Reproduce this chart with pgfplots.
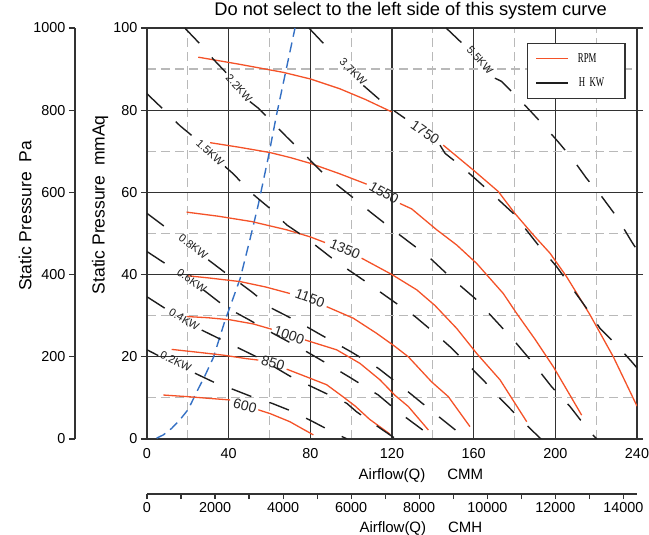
\documentclass[border=0pt]{standalone}
\usepackage{pgfplots}
\pgfplotsset{compat=1.18}
\usepackage{fontspec}
\setmainfont{Liberation Sans}
\newfontfamily\legfont{Liberation Serif}[FakeStretch=0.65]
\definecolor{rpm}{RGB}{244,82,40}
\definecolor{sys}{RGB}{52,112,196}
\definecolor{kw}{RGB}{30,30,30}
\definecolor{gridmaj}{RGB}{50,50,50}
\definecolor{gridmin}{RGB}{185,185,185}
\newcommand\tkf{\fontsize{14.4bp}{17bp}\selectfont}
\newcommand\lbf{\fontsize{15bp}{18bp}\selectfont}
\newcommand\ylf{\fontsize{17.5bp}{20bp}\selectfont}
\newcommand\ttf{\fontsize{18.3bp}{21bp}\selectfont}
\newcommand\kwf{\fontsize{11bp}{13bp}\selectfont}
\newcommand\rpf{\fontsize{14bp}{16bp}\selectfont}
\newcommand\legf{\legfont\fontsize{13.5bp}{15bp}\selectfont}
\pgfplotsset{
  rpmline/.style={rpm, line width=1.3bp, forget plot},
  kwline/.style={kw, line width=1.4bp, dash pattern=on 21bp off 19bp, forget plot},
}
\begin{document}
\begin{tikzpicture}
\begin{axis}[
  scale only axis, width=490bp, height=411bp,
  at={(0,0)}, anchor=south west,
  xmin=0, xmax=240, ymin=0, ymax=100,
  xtick={0,40,...,240}, ytick={0,20,...,100},
  yticklabels={0\hspace{6bp},20,40,60,80,100},
  minor x tick num=1, minor y tick num=1,
  grid=both,
  major grid style={gridmaj, line width=1.3bp},
  minor grid style={gridmin, line width=1.2bp, dash pattern=on 9bp off 5bp},
  axis line style={gridmaj, line width=1.5bp},
  tick align=outside, major tick length=6bp, minor tick length=0pt,
  tick style={gridmaj, line width=1.2bp},
  xtick style={/pgfplots/major tick length=0pt},
  /pgf/number format/assume math mode=true,
  xticklabel style={font=\tkf},
  yticklabel style={font=\tkf},
  title={Do not select to the left side of this system curve},
  title style={font=\ttf, at={(axis description cs:0.538,1)}, anchor=base, yshift=6.3bp},
  xlabel={Airflow(Q)\hspace{22bp}CMM},
  xlabel style={font=\lbf, at={(axis description cs:0.559,0)}, anchor=center, yshift=-37bp},
  ylabel={Static Pressure\ \ mmAq},
  ylabel style={font=\ylf, at={(axis description cs:-0.0959,0.570)}, anchor=center},
  legend style={at={(axis description cs:0.7755,0.9635)}, anchor=north west,
    draw=gridmaj, line width=1.3bp, fill=white, font=\legf,
    inner xsep=8bp, inner ysep=8bp, row sep=10bp, cells={anchor=west}},
  legend image code/.code={\draw[#1] (0bp,0bp) -- (32bp,0bp);},
]
\addlegendimage{draw=rpm, line width=1.3bp}\addlegendentry{\makebox[44bp][l]{\hspace{7bp}RPM}}
\addlegendimage{draw=kw, line width=1.3bp}\addlegendentry{\makebox[44bp][l]{\hspace{8bp}H\ \ KW}}

% ---- system curve
\addplot[sys, line width=1.4bp, dash pattern=on 10bp off 6bp, forget plot] coordinates {
(4.7,0.2)(8,1)(12.1,2.6)(16,4.6)(20.2,7.2)(25.1,12.2)(28,15)(32.5,19.8)(38,28.5)(42,34)(45.6,39)(50.4,48.5)(54.5,57)(59.4,68.5)(63.5,79)(68,89.5)(72.5,100)};

% ---- RPM curves
\addplot[rpmline] coordinates {(25.1,92.9)(45,91.2)(66.8,89.2)(80,87.6)(94.5,85.2)(107,82.6)(119.8,79.6)};
\addplot[rpmline] coordinates {(145.1,71.5)(159.9,65.4)(172.1,60.2)(180,55)(189.5,49.5)(197.4,45.2)(205.5,39.5)(217,30.2)(228.4,20.0)(240,8.0)};
\addplot[rpmline] coordinates {(30.9,72.1)(45,71.0)(60.2,69.7)(70,68.5)(79.8,67.1)(94,64.6)(107.6,62.0)};
\addplot[rpmline] coordinates {(123.9,57.3)(129.6,56.0)(141.9,50.9)(151.7,47.2)(161.5,42.7)(174.5,35.4)(181,30.6)(190,24.3)(199,17.6)(212.9,5.8)};
\addplot[rpmline] coordinates {(19.4,55.2)(35,54.2)(51.3,52.9)(68.4,50.9)(79.8,49.2)(87.2,47.8)};
\addplot[rpmline] coordinates {(105.1,44.0)(120,40)(132.1,36.3)(141,32.5)(151.7,26.9)(161.5,20.8)(172.9,14.4)(186,4.2)};
\addplot[rpmline] coordinates {(20.2,39.7)(30,39.2)(45.6,38.3)(58,37)(70,35.4)};
\addplot[rpmline] coordinates {(88,32.2)(101,29.4)(112.5,25.7)(121.5,22.5)(128,20.0)(139.4,13.9)(147.6,10.3)(158.2,3.0)};
\addplot[rpmline] coordinates {(19.4,29.8)(30,29.5)(40.7,29.0)(52,28)(61.1,26.7)};
\addplot[rpmline] coordinates {(77.4,24.1)(92.9,21.7)(104.3,18.4)(114.1,14.4)(121.5,10.6)(128,7.9)(137.8,2.2)};
\addplot[rpmline] coordinates {(12.1,21.8)(25,21.1)(37.4,20.4)(48,19.6)(54.5,19.2)};
\addplot[rpmline] coordinates {(68.4,17)(79.8,14.8)(88,13.2)(95.4,10.5)(102,8)(109,4.8)(119,1.2)};
\addplot[rpmline] coordinates {(8,10.7)(20,10.3)(30,9.9)(40.7,9.5)};
\addplot[rpmline] coordinates {(54.5,7.1)(60.2,6.2)(70,4.2)(75,2.8)(81.5,1.0)};

% ---- kW lines
\addplot[kwline] coordinates {(0,21.7)(5.5,20.3)};
\addplot[kwline] coordinates {(23.5,16)(34.1,13.5)(41.5,12.2)(51.3,10.3)(61.1,8.7)(69.2,7.1)(79.8,4.6)(92.1,1.4)(98,0)};
\addplot[kwline] coordinates {(0,34.6)(8.8,31.8)};
\addplot[kwline] coordinates {(26.8,26.5)(40,23.3)(55.3,19.6)(70,15.3)(77.4,13.5)(97.8,8.7)(102.7,6.6)(116.6,1.8)(122,0)};
\addplot[kwline] coordinates {(0,45.6)(12.9,41.4)};
\addplot[kwline] coordinates {(27.6,36.3)(38.2,32.2)(50,29)(60.2,26.1)(76.6,21.7)(88,18.4)(100,14.8)(113.3,10.7)(123.1,6.6)(141,0)};
\addplot[kwline] coordinates {(0,54.9)(12.1,50.4)};
\addplot[kwline] coordinates {(30,43.6)(39.8,39.9)(45.6,37.9)(51.3,35.8)(61.1,31.8)(74.1,28.5)(83.9,25.7)(100,21.2)(113.3,17.2)(123.9,13.1)(140,6.6)(156.6,0)};
\addplot[kwline] coordinates {(0,84)(8,80.2)(16.2,76.2)(23.5,73.2)};
\addplot[kwline] coordinates {(38.2,66.3)(42.3,64.5)(51.3,59.8)(60.2,56.1)(68.4,52.1)(78.2,48.8)(92.9,43.1)(105.9,38.7)(119.8,33.8)(131.3,29.8)(141.1,25.7)(149.2,22.1)(157.4,18)(165.5,13.9)(172.9,9.9)(181,5.8)(189.2,1.8)(193,0)};
\addplot[kwline] coordinates {(18.5,100)(26,96.1)(32.5,92.4)(39,89)};
\addplot[kwline] coordinates {(50.4,82.1)(54.5,80.5)(61.9,76.8)(68.4,73.5)(75.8,69.9)(79,68.3)(85.6,65)(92.1,62.2)(103.5,57.7)(109.2,55.3)(117.4,52.1)(123.9,49.6)(137.8,44.4)(149.2,39.1)(160.7,34.2)(171.3,28.5)(180.2,23.7)(189.2,18.4)(198.2,12.7)(207.2,7.9)(216.1,2.2)(220.3,0)};
\addplot[kwline] coordinates {(79.3,100)(85,97)(91.2,93.8)};
\addplot[kwline] coordinates {(106,86)(114.1,82.5)(120.6,80)(126.4,78)};
\addplot[kwline] coordinates {(143.5,71.5)(146,69.5)(154.1,66.3)(161.5,63)(169.6,59.4)(179.4,54.9)(191.6,47.2)(200.7,41.9)(208.8,36.3)(215.3,31.8)(221.9,26.9)(230,22.9)(237.4,18.8)(240,17.3)};
\addplot[kwline] coordinates {(146.5,100)(155.8,95.6)};
\addplot[kwline] coordinates {(170.4,87.8)(173.7,87)(180.2,83.7)(187.6,79.9)(194.1,76.4)(201.4,72.3)(208.8,67.9)(215.3,63.4)(222.7,59)(230,54.1)(237.4,48)(240,46)};

% ---- labels
\begin{scope}[every node/.style={font=\kwf, text=kw, inner sep=0pt}]
\node[rotate=-25.7] at (axis cs:14.1,18.8) {0.2KW};
\node[rotate=-30.6] at (axis cs:18.2,29.1) {0.4KW};
\node[rotate=-34.9] at (axis cs:21.9,38.5) {0.6KW};
\node[rotate=-37.4] at (axis cs:22.7,46.8) {0.8KW};
\node[rotate=-42.5] at (axis cs:30.9,69.6) {1.5KW};
\node[rotate=-48] at (axis cs:45.1,85.4) {2.2KW};
\node[rotate=-45] at (axis cs:101,89.3) {3.7KW};
\node[rotate=-47] at (axis cs:163.1,92.2) {5.5KW};
\end{scope}
\begin{scope}[every node/.style={font=\rpf, text=black!85, inner sep=0pt}]
\node[rotate=-35] at (axis cs:136.2,74.6) {1750};
\node[rotate=-30] at (axis cs:116.1,59.9) {1550};
\node[rotate=-23] at (axis cs:97,46.2) {1350};
\node[rotate=-20] at (axis cs:79.8,34.3) {1150};
\node[rotate=-19] at (axis cs:69.6,25.3) {1000};
\node[rotate=-17] at (axis cs:61.7,18.5) {850};
\node[rotate=-15] at (axis cs:48,8.0) {600};
\end{scope}
\end{axis}

% ---- Pa axis
\begin{axis}[
  scale only axis, width=72bp, height=411bp,
  at={(-72bp,0)}, anchor=south west,
  xmin=0, xmax=1, ymin=0, ymax=1000,
  axis y line=left, axis x line=none,
  axis line style={-, gridmaj, line width=1.5bp},
  ytick={0,200,...,1000},
  yticklabels={0\hspace{6bp},200,400,600,800,1000},
  tick align=outside, major tick length=6bp,
  tick style={gridmaj, line width=1.2bp},
  yticklabel style={font=\tkf},
  ylabel={Static Pressure\ \ Pa},
  ylabel style={font=\ylf, at={(axis description cs:-0.694,0.543)}, anchor=center},
]
\end{axis}

% ---- CMH axis
\begin{axis}[
  scale only axis, width=490bp, height=10bp,
  at={(0,-55bp)}, anchor=south west,
  xmin=0, xmax=14400, ymin=0, ymax=1,
  axis x line=bottom, axis y line=none,
  axis line style={-, gridmaj, line width=1.5bp},
  xtick={0,1000,...,14000},
  xticklabels={0,,2000,,4000,,6000,,8000,,10000,,12000,,14000},
  scaled x ticks=false,
  tick align=outside, major tick length=5bp,
  tick style={gridmaj, line width=1.2bp},
  xticklabel style={font=\tkf},
  xlabel={Airflow(Q)\hspace{22bp}CMH},
  xlabel style={font=\lbf, at={(axis description cs:0.559,0)}, anchor=center, yshift=-35bp},
]
\end{axis}

\pgfresetboundingbox
\path[use as bounding box] (-147bp,-96bp) rectangle (502bp,439bp);
\end{tikzpicture}
\end{document}
